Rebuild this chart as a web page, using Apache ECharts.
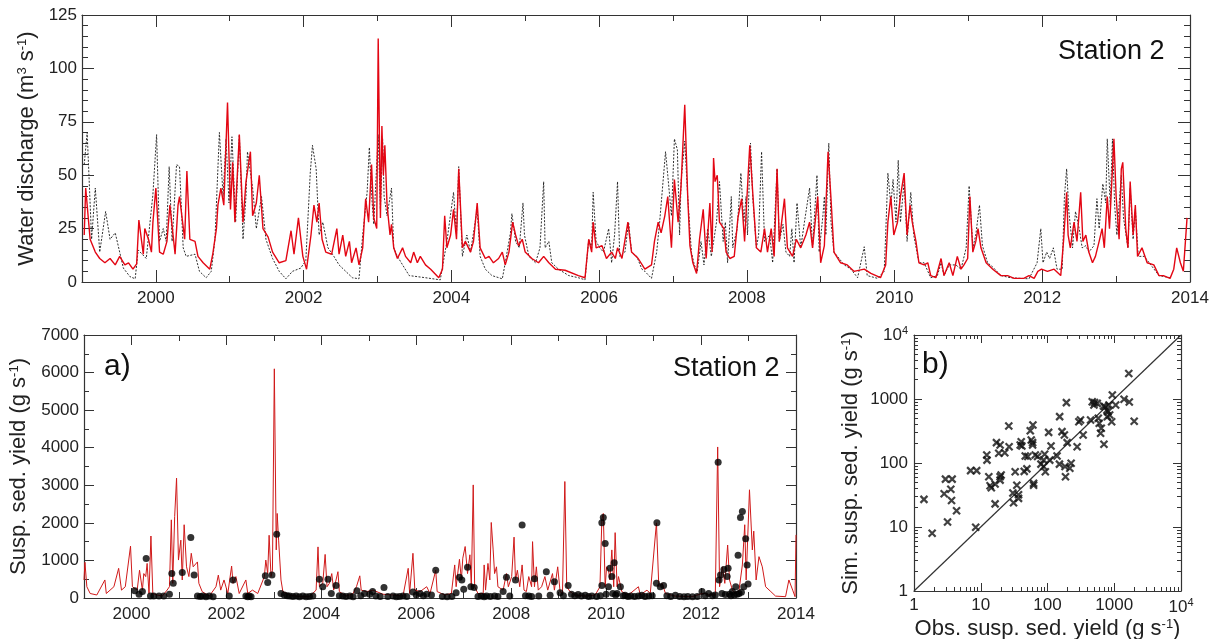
<!DOCTYPE html>
<html>
<head>
<meta charset="utf-8">
<script src="https://cdn.jsdelivr.net/npm/echarts@6/dist/echarts.min.js"></script>
<style>
  html, body { margin: 0; padding: 0; background: #fff; }
  #chart { width: 1210px; height: 639px; }
</style>
</head>
<body>
<div id="chart"></div>
<script>
// observed / simulated water discharge, [decimal year, m3/s]
const qObs = [
  [1999.03,55],[1999.07,70],[1999.13,20],[1999.18,44],[1999.24,14],[1999.32,33],[1999.38,20],[1999.45,23],[1999.56,6.5],[1999.65,2.5],
  [1999.72,1.5],[1999.76,15],[1999.87,11],[1999.96,41],[2000.01,69],[2000.05,19],[2000.10,25],[2000.14,19],[2000.18,54],[2000.22,19],
  [2000.28,55],[2000.32,54],[2000.37,16],[2000.41,12],[2000.53,13],[2000.59,5],[2000.68,2],[2000.75,5],[2000.80,20],[2000.86,70],
  [2000.91,40],[2000.95,67],[2000.99,37],[2001.03,68],[2001.08,28],[2001.13,69],[2001.18,20],[2001.22,40],[2001.24,61],[2001.31,44],
  [2001.36,25],[2001.43,40],[2001.49,20],[2001.58,11],[2001.67,5],[2001.76,1.5],[2001.85,5],[2001.96,6.5],[2002.03,10],[2002.09,51],
  [2002.12,64],[2002.17,53],[2002.21,22],[2002.26,28],[2002.33,16],[2002.41,12],[2002.48,8],[2002.57,5],[2002.66,2],[2002.75,1.5],
  [2002.80,22],[2002.83,32],[2002.86,42],[2002.89,63],[2002.92,41],[2002.95,27],[2002.98,48],[2003.01,69],[2003.04,34],[2003.07,67],
  [2003.09,40],[2003.13,31],[2003.19,44],[2003.22,16],[2003.27,12],[2003.34,8],[2003.43,3],[2003.65,2],[2003.85,1],[2003.90,11],
  [2003.94,19],[2004.03,42],[2004.07,22],[2004.10,54],[2004.15,12],[2004.21,22],[2004.26,14],[2004.30,23],[2004.35,34],[2004.39,12],
  [2004.46,6],[2004.55,3],[2004.69,1.5],[2004.73,9],[2004.80,23],[2004.82,32],[2004.87,19],[2004.92,16],[2004.97,37],[2004.99,22],
  [2005.05,12],[2005.14,9],[2005.20,16],[2005.25,47],[2005.27,16],[2005.32,19],[2005.36,9],[2005.45,6],[2005.59,3],[2005.72,2],
  [2005.81,1],[2005.86,20],[2005.90,16],[2005.92,42],[2005.96,19],[2006.01,16],[2006.06,14],[2006.13,25],[2006.17,9],[2006.21,22],
  [2006.25,47],[2006.28,12],[2006.35,14],[2006.40,28],[2006.44,14],[2006.51,12],[2006.58,6],[2006.62,5],[2006.71,1.7],[2006.78,14],
  [2006.82,28],[2006.90,61],[2006.93,50],[2006.98,31],[2007.02,67],[2007.06,62],[2007.09,22],[2007.11,47],[2007.16,66],[2007.20,40],
  [2007.25,14],[2007.29,8],[2007.33,5],[2007.38,19],[2007.42,8],[2007.47,25],[2007.52,12],[2007.59,28],[2007.63,47],[2007.68,19],
  [2007.71,28],[2007.74,9],[2007.79,40],[2007.81,16],[2007.87,25],[2007.92,51],[2007.96,28],[2007.99,40],[2008.01,22],[2008.05,65],
  [2008.08,40],[2008.13,16],[2008.16,22],[2008.20,61],[2008.24,19],[2008.31,22],[2008.35,9],[2008.41,53],[2008.44,19],[2008.49,27],
  [2008.53,14],[2008.58,12],[2008.61,25],[2008.64,9],[2008.68,37],[2008.73,16],[2008.78,28],[2008.85,44],[2008.89,16],[2008.95,50],
  [2008.98,14],[2009.03,31],[2009.05,40],[2009.07,22],[2009.11,65],[2009.14,28],[2009.18,14],[2009.25,11],[2009.32,8],[2009.41,6],
  [2009.50,2],[2009.59,16.5],[2009.63,3],[2009.77,1.7],[2009.86,5],[2009.88,22],[2009.91,51],[2009.95,36],[2009.98,48],[2010.02,28],
  [2010.05,57],[2010.08,28],[2010.13,47],[2010.17,19],[2010.22,42],[2010.26,22],[2010.33,9],[2010.40,9],[2010.49,2],[2010.58,3],
  [2010.63,9],[2010.67,3],[2010.74,8],[2010.83,8],[2010.90,6],[2010.97,16],[2011.01,45],[2011.06,16],[2011.10,22],[2011.15,36],
  [2011.19,17],[2011.26,9],[2011.33,7],[2011.44,3],[2011.57,2],[2011.71,1.7],[2011.82,1.5],[2011.93,9],[2011.98,25],[2012.01,9],
  [2012.06,14],[2012.10,11],[2012.15,16],[2012.20,6],[2012.27,6],[2012.30,40],[2012.33,53],[2012.36,33],[2012.41,16],[2012.45,33],
  [2012.50,25],[2012.54,16],[2012.59,17],[2012.63,14],[2012.70,17],[2012.74,39],[2012.77,25],[2012.82,46],[2012.86,37],[2012.88,67],
  [2012.92,36],[2012.95,67],[2012.98,36],[2013.01,22],[2013.07,50],[2013.10,30],[2013.16,16],[2013.19,44],[2013.23,20],[2013.26,34],
  [2013.30,12],[2013.38,12],[2013.47,8],[2013.58,3],[2013.73,2]
];

const qSim = [
  [1999.03,22],[1999.05,44],[1999.11,20],[1999.18,14],[1999.24,11],[1999.31,9],[1999.38,11],[1999.45,8],[1999.51,12],[1999.58,8],
  [1999.63,9],[1999.69,6],[1999.74,8.5],[1999.77,29],[1999.83,13],[1999.85,25],[1999.90,20],[1999.94,14],[1999.96,28],[2000.00,44],
  [2000.05,14],[2000.10,13],[2000.15,19],[2000.19,36],[2000.26,13],[2000.30,36],[2000.32,40],[2000.39,20],[2000.42,52],[2000.46,20],
  [2000.53,19],[2000.57,12],[2000.64,9],[2000.73,6],[2000.77,13],[2000.82,25],[2000.84,36],[2000.88,44],[2000.92,36],[2000.97,84],
  [2001.01,34],[2001.04,56],[2001.07,28],[2001.13,69],[2001.18,28],[2001.22,47],[2001.28,61],[2001.31,31],[2001.36,37],[2001.40,50],
  [2001.45,25],[2001.52,21],[2001.58,14],[2001.67,9],[2001.76,10],[2001.83,24],[2001.87,13],[2001.93,30],[2001.99,12],[2002.04,6],
  [2002.10,22],[2002.14,36],[2002.18,28],[2002.21,37],[2002.25,20],[2002.30,14],[2002.38,13],[2002.45,25],[2002.48,13],[2002.53,22],
  [2002.57,12],[2002.62,19],[2002.65,9],[2002.71,16],[2002.75,8],[2002.80,16],[2002.84,39],[2002.88,28],[2002.92,55],[2002.95,30],
  [2002.99,25],[2003.01,114],[2003.04,30],[2003.06,73],[2003.08,50],[2003.10,64],[2003.13,36],[2003.17,22],[2003.19,27],[2003.22,16],
  [2003.27,11],[2003.34,16],[2003.38,12],[2003.45,9],[2003.49,14],[2003.54,9],[2003.58,12],[2003.65,8],[2003.72,6],[2003.83,2],
  [2003.88,6],[2003.91,31],[2003.94,16],[2003.99,22],[2004.03,34],[2004.07,20],[2004.10,53],[2004.15,16],[2004.19,19],[2004.26,14],
  [2004.30,19],[2004.35,37],[2004.39,16],[2004.46,11],[2004.51,12],[2004.57,9],[2004.64,11],[2004.69,14],[2004.73,8],[2004.78,14],
  [2004.83,28],[2004.87,22],[2004.91,17],[2004.96,20],[2005.00,14],[2005.09,11],[2005.18,9],[2005.25,12],[2005.32,9],[2005.41,6],
  [2005.54,5.5],[2005.72,3],[2005.81,2],[2005.86,20],[2005.90,14],[2005.92,28],[2005.96,16],[2006.04,17],[2006.10,11],[2006.17,14],
  [2006.22,11],[2006.25,16],[2006.31,11],[2006.39,28],[2006.44,14],[2006.53,11],[2006.62,6],[2006.71,8],[2006.75,19],[2006.80,28],
  [2006.84,23],[2006.89,31],[2006.93,40],[2006.98,16],[2007.02,48],[2007.07,28],[2007.11,45],[2007.16,83],[2007.20,40],[2007.23,17],
  [2007.27,9],[2007.32,4],[2007.36,20],[2007.41,34],[2007.45,11],[2007.50,37],[2007.53,14],[2007.55,58],[2007.57,47],[2007.60,50],
  [2007.63,28],[2007.69,25],[2007.72,14],[2007.77,11],[2007.83,12],[2007.88,30],[2007.93,39],[2007.97,19],[2008.04,64],[2008.08,42],
  [2008.13,16],[2008.19,14],[2008.24,25],[2008.28,14],[2008.33,25],[2008.37,12],[2008.41,53],[2008.44,19],[2008.51,39],[2008.55,16],
  [2008.62,12],[2008.67,20],[2008.73,16],[2008.80,22],[2008.85,28],[2008.89,16],[2008.96,40],[2009.00,9],[2009.05,17],[2009.10,61],
  [2009.14,39],[2009.18,14],[2009.27,9],[2009.36,8],[2009.45,5],[2009.59,6],[2009.68,4],[2009.81,2],[2009.88,8],[2009.91,28],
  [2009.95,40],[2009.99,22],[2010.04,28],[2010.08,40],[2010.13,51],[2010.17,22],[2010.21,36],[2010.24,28],[2010.29,19],[2010.33,9],
  [2010.40,8],[2010.45,9],[2010.49,3],[2010.56,2],[2010.63,11],[2010.67,3],[2010.74,9],[2010.79,3],[2010.85,12],[2010.90,6],
  [2010.94,8],[2010.99,11],[2011.02,40],[2011.06,14],[2011.10,19],[2011.13,25],[2011.17,16],[2011.24,9],[2011.33,6],[2011.44,3],
  [2011.53,3],[2011.62,1.7],[2011.75,1.7],[2011.82,3],[2011.89,1.7],[2011.94,5],[2011.99,6],[2012.07,5],[2012.16,6],[2012.25,3],
  [2012.29,20],[2012.33,42],[2012.35,22],[2012.38,16],[2012.43,28],[2012.47,19],[2012.52,42],[2012.55,19],[2012.59,22],[2012.63,14],
  [2012.68,9],[2012.72,12],[2012.77,19],[2012.81,25],[2012.84,16],[2012.88,40],[2012.91,25],[2012.97,67],[2013.00,40],[2013.04,20],
  [2013.07,53],[2013.09,56],[2013.13,25],[2013.16,16],[2013.19,47],[2013.23,22],[2013.26,36],[2013.29,12],[2013.35,16],[2013.42,9],
  [2013.51,8],[2013.58,3],[2013.64,3],[2013.73,1.7],[2013.78,6],[2013.82,16],[2013.87,9],[2013.91,5],[2013.96,30]
];

// simulated suspended sediment yield, [decimal year, g/s]
const sedSim = [
  [1999.00,480],[1999.02,950],[1999.06,300],[1999.13,120],[1999.27,80],[1999.44,480],[1999.47,120],[1999.63,300],[1999.73,790],[1999.79,210],
  [1999.87,300],[1999.98,1380],[2000.02,300],[2000.12,210],[2000.17,740],[2000.23,210],[2000.26,650],[2000.30,570],[2000.33,920],[2000.37,120],
  [2000.41,1650],[2000.45,120],[2000.54,80],[2000.65,50],[2000.75,210],[2000.80,300],[2000.84,2080],[2000.87,390],[2000.91,2170],[2000.95,3190],
  [2000.99,1010],[2001.04,1540],[2001.07,480],[2001.11,1950],[2001.16,830],[2001.21,570],[2001.26,1190],[2001.30,830],[2001.39,960],[2001.42,390],
  [2001.49,170],[2001.64,50],[2001.78,300],[2001.83,610],[2001.88,210],[2001.95,480],[2002.03,120],[2002.11,850],[2002.14,390],[2002.20,570],
  [2002.27,120],[2002.41,480],[2002.45,120],[2002.55,210],[2002.66,120],[2002.80,570],[2002.83,1010],[2002.87,650],[2002.90,1670],[2002.94,570],
  [2002.97,740],[2003.01,6100],[2003.05,1280],[2003.07,2250],[2003.10,1540],[2003.15,480],[2003.19,170],[2003.33,80],[2003.54,35],[2003.75,35],
  [2003.89,210],[2003.93,1360],[2003.96,300],[2004.03,390],[2004.08,1160],[2004.12,300],[2004.17,390],[2004.22,650],[2004.26,210],[2004.35,700],
  [2004.38,170],[2004.52,50],[2004.67,120],[2004.74,300],[2004.81,590],[2004.84,210],[2004.95,170],[2005.09,210],[2005.30,100],[2005.51,80],
  [2005.72,50],[2005.83,790],[2005.86,120],[2005.93,1190],[2005.97,210],[2006.08,170],[2006.22,300],[2006.29,120],[2006.41,740],[2006.44,170],
  [2006.53,120],[2006.60,80],[2006.74,120],[2006.81,880],[2006.84,300],[2006.91,1030],[2006.95,480],[2006.98,1060],[2007.03,1370],[2007.08,650],
  [2007.13,1150],[2007.16,300],[2007.20,3010],[2007.23,300],[2007.30,120],[2007.41,120],[2007.43,880],[2007.46,210],[2007.51,920],[2007.55,480],
  [2007.58,2010],[2007.62,1280],[2007.65,650],[2007.69,830],[2007.72,300],[2007.83,210],[2007.90,650],[2007.94,300],[2008.01,570],[2008.06,1620],
  [2008.09,480],[2008.13,740],[2008.18,300],[2008.23,880],[2008.27,210],[2008.32,170],[2008.37,570],[2008.43,300],[2008.45,1500],[2008.49,300],
  [2008.53,830],[2008.57,210],[2008.64,300],[2008.71,570],[2008.77,210],[2008.87,650],[2008.91,210],[2008.98,830],[2009.03,170],[2009.08,120],
  [2009.13,3100],[2009.17,300],[2009.24,170],[2009.34,80],[2009.56,50],[2009.77,80],[2009.87,300],[2009.91,2100],[2009.94,2250],[2009.98,300],
  [2010.01,830],[2010.05,740],[2010.08,480],[2010.12,1280],[2010.16,300],[2010.19,1740],[2010.23,300],[2010.26,570],[2010.33,170],[2010.47,80],
  [2010.68,300],[2010.72,80],[2010.86,210],[2010.93,120],[2011.06,2000],[2011.11,300],[2011.18,390],[2011.25,120],[2011.46,50],[2011.81,35],
  [2012.02,120],[2012.09,120],[2012.16,80],[2012.30,80],[2012.35,4020],[2012.39,300],[2012.45,830],[2012.50,390],[2012.56,1410],[2012.60,480],
  [2012.66,210],[2012.73,120],[2012.80,210],[2012.87,880],[2012.92,1950],[2012.95,480],[2013.02,2880],[2013.08,1280],[2013.11,1780],[2013.16,480],
  [2013.22,1100],[2013.29,830],[2013.36,300],[2013.47,170],[2013.57,50],[2013.78,35],[2013.85,480],[2013.93,210],[2013.98,35],[2014.00,1680]
];

// observed suspended sediment yield samples, [decimal year, g/s]
const sedObs = [
  [2000.07,195],[2000.16,100],[2000.23,170],[2000.31,1050],[2000.40,50],[2000.47,50],[2000.58,50],[2000.68,50],[2000.80,100],[2000.85,650],
  [2000.88,390],[2001.07,680],[2001.25,1610],[2001.32,610],[2001.39,50],[2001.45,40],[2001.50,50],[2001.57,30],[2001.64,50],[2001.72,30],
  [2002.06,50],[2002.14,480],[2002.41,50],[2002.45,30],[2002.48,50],[2002.52,30],[2002.82,590],[2002.87,410],[2002.96,610],[2003.06,1700],
  [2003.15,120],[2003.22,80],[2003.28,60],[2003.33,50],[2003.40,40],[2003.47,50],[2003.54,30],[2003.61,50],[2003.68,30],[2003.75,40],
  [2003.82,50],[2003.96,500],[2004.03,300],[2004.14,500],[2004.21,120],[2004.31,330],[2004.38,60],[2004.45,50],[2004.52,40],[2004.60,50],
  [2004.67,30],[2004.75,190],[2004.83,60],[2004.91,120],[2005.02,100],[2005.08,170],[2005.15,50],[2005.24,40],[2005.32,280],[2005.40,40],
  [2005.51,50],[2005.58,30],[2005.65,40],[2005.72,50],[2005.80,40],[2005.93,160],[2006.00,80],[2006.08,120],[2006.15,60],[2006.22,100],
  [2006.32,80],[2006.41,740],[2006.55,40],[2006.65,30],[2006.75,40],[2006.84,140],[2006.91,550],[2006.96,480],[2007.00,230],[2007.08,820],
  [2007.15,300],[2007.22,280],[2007.30,40],[2007.37,50],[2007.43,30],[2007.48,50],[2007.56,40],[2007.65,50],[2007.72,40],[2007.83,170],
  [2007.90,550],[2007.97,50],[2008.09,480],[2008.23,1940],[2008.30,60],[2008.37,50],[2008.43,40],[2008.49,510],[2008.58,50],[2008.74,700],
  [2008.82,70],[2008.91,430],[2009.03,140],[2009.10,60],[2009.20,330],[2009.27,100],[2009.34,60],[2009.41,90],[2009.48,50],[2009.56,70],
  [2009.63,40],[2009.70,50],[2009.80,40],[2009.88,60],[2009.91,2000],[2009.91,330],[2009.94,2140],[2009.98,1450],[2010.00,100],[2010.05,300],
  [2010.08,790],[2010.12,570],[2010.14,120],[2010.17,940],[2010.20,80],[2010.23,120],[2010.30,300],[2010.36,60],[2010.40,70],[2010.46,40],
  [2010.52,50],[2010.60,40],[2010.68,50],[2010.75,70],[2010.82,40],[2010.90,50],[2010.97,60],[2011.06,390],[2011.07,2000],[2011.14,300],
  [2011.21,330],[2011.28,60],[2011.36,40],[2011.46,70],[2011.55,40],[2011.64,30],[2011.72,40],[2011.82,30],[2011.92,40],[2012.02,170],
  [2012.09,60],[2012.16,120],[2012.24,60],[2012.30,80],[2012.36,3610],[2012.38,480],[2012.41,610],[2012.44,120],[2012.48,760],[2012.51,90],
  [2012.55,570],[2012.57,790],[2012.60,100],[2012.63,60],[2012.66,170],[2012.70,80],[2012.73,300],[2012.76,100],[2012.78,1140],[2012.80,120],
  [2012.83,2140],[2012.85,150],[2012.87,2300],[2012.90,300],[2012.94,1580],[2012.97,880],[2012.99,370]
];

// panel b: observed vs simulated yield (g/s)
const scObs = [1.41,1.87,2.83,2.96,3.73,3.56,3.65,3.18,4.34,7.05,
  8.68,8.4,12.3,12.4,13.2,13.8,14.4,16.4,16.4,17.2,
  19.5,18.6,22.9,19.5,19.5,20.2,26.3,26.6,30.3,31.0,
  32.8,34.7,36.8,36.8,39.0,40.4,41.3,44.8,49.1,46.4,
  50.8,55.2,57.1,59.8,59.8,60.5,61.9,61.9,65.6,71.1,
  79.8,87.5,87.5,90.6,92.8,104,108,113,139,151,
  152,165,179,183,186,197,192,216,226,278,
  295,312,342,442,468,496,507,556,576,596,
  624,639,701,726,778,787,805,834,853,914,
  936,1050,1403,1650,1680,1990,690];
const scSim = [27,8.0,33,56,56,39,26,12,18,76,
  76,9.9,133,111,61,44,41,23,47,208,
  191,142,145,61,54,65,378,180,34,24,
  73,45,32,28,191,215,184,74,81,129,
  126,320,229,208,191,392,48,45,133,126,
  96,111,88,137,73,301,111,184,129,96,
  530,309,274,88,61,208,877,83,99,180,
  442,470,274,470,908,806,877,855,499,417,
  291,348,196,759,673,530,634,806,562,442,
  1155,806,988,2500,900,450,780];
const oneToOne = [[1, 1], [10000, 10000]];

const evenYears = [2000, 2002, 2004, 2006, 2008, 2010, 2012, 2014];
const logMinor = [];
[1, 10, 100, 1000].forEach(d => { for (let k = 2; k <= 9; k++) logMinor.push(k * d); });

const FONT = '"Liberation Sans", Arial, Helvetica, sans-serif';
const AX = '#333';
const RED = '#e30613';

const myChart = echarts.init(document.getElementById('chart'));

// year axis pair (short ticks every year, long ticks every 2 years)
function yearAxes (grid, pos, labels, longLen) {
  const base = {
    type: 'value', gridIndex: grid, position: pos, min: 1999, max: 2014, interval: 1,
    splitLine: { show: false },
    axisLine: { show: true, lineStyle: { color: AX, width: 1.2 } }
  };
  return [
    Object.assign({}, base, {
      axisTick: { inside: true, length: 6, lineStyle: { color: AX } },
      axisLabel: labels
        ? { show: true, margin: 8, fontSize: 17, color: '#222', fontFamily: FONT,
            formatter: v => (v % 2 === 0 ? String(v) : '') }
        : { show: false }
    }),
    Object.assign({}, base, {
      axisLine: { show: false },
      axisTick: { inside: true, length: longLen, customValues: evenYears, lineStyle: { color: AX } },
      axisLabel: { show: false }
    })
  ];
}

function logAxes (grid, pos, labels, nameOpts) {
  const base = {
    type: 'log', logBase: 10, gridIndex: grid, position: pos, min: 1, max: 10000,
    splitLine: { show: false },
    axisLine: { show: true, lineStyle: { color: AX, width: 1.2 } }
  };
  return [
    Object.assign({}, base, {
      axisTick: { inside: true, length: 8, lineStyle: { color: AX } },
      axisLabel: labels
        ? { show: true, margin: 6, fontSize: 17, color: '#222', fontFamily: FONT,
            formatter: v => (v >= 10000 ? '{b|10}{s|4}' : String(v)),
            rich: { b: { fontSize: 17, fontFamily: FONT, color: '#222' },
                    s: { fontSize: 11, fontFamily: FONT, color: '#222', verticalAlign: 'top', lineHeight: 20 } } }
        : { show: false }
    }, nameOpts || {}),
    Object.assign({}, base, {
      axisLine: { show: false },
      axisTick: { inside: true, length: 4, customValues: logMinor, lineStyle: { color: AX } },
      axisLabel: { show: false }
    })
  ];
}

function titleRich (size) {
  return {
    t: { fontSize: size, fontFamily: FONT, color: '#222' },
    s: { fontSize: Math.round(size * 0.6), fontFamily: FONT, color: '#222', verticalAlign: 'top' }
  };
}

function valueY (grid, pos, max, interval, minorSplit, labels, tickLen, nameOpts) {
  return Object.assign({
    type: 'value', gridIndex: grid, position: pos, min: 0, max: max, interval: interval,
    splitLine: { show: false },
    axisLine: { show: true, lineStyle: { color: AX, width: 1.2 } },
    axisTick: { inside: true, length: tickLen, lineStyle: { color: AX } },
    minorTick: { show: true, splitNumber: minorSplit, length: tickLen / 2, lineStyle: { color: AX } },
    axisLabel: labels
      ? { show: true, margin: 5, fontSize: 17, color: '#222', fontFamily: FONT, formatter: v => String(v) }
      : { show: false }
  }, nameOpts || {});
}

const xAxes = [].concat(
  yearAxes(0, 'bottom', true, 12), // 0,1
  yearAxes(0, 'top', false, 12), // 2,3
  yearAxes(1, 'bottom', true, 10), // 4,5
  yearAxes(1, 'top', false, 10), // 6,7
  logAxes(2, 'bottom', true, {
    name: '{t|Obs. susp. sed. yield (g s}{s|-1}{t|)}',
    nameLocation: 'middle', nameGap: 27,
    nameTextStyle: { rich: titleRich(22) }
  }), // 8,9
  logAxes(2, 'top', false) // 10,11
);

const yAxes = [
  valueY(0, 'left', 125, 25, 5, true, 12, {
    name: '{t|Water discharge (m}{s|3}{t| s}{s|-1}{t|)}',
    nameLocation: 'middle', nameRotate: 90, nameGap: 42,
    nameTextStyle: { rich: titleRich(22) }
  }),
  valueY(0, 'right', 125, 25, 5, false, 12),
  valueY(1, 'left', 7000, 1000, 2, true, 10, {
    name: '{t|Susp. sed. yield (g s}{s|-1}{t|)}',
    nameLocation: 'middle', nameRotate: 90, nameGap: 50,
    nameTextStyle: { rich: titleRich(22) }
  }),
  valueY(1, 'right', 7000, 1000, 2, false, 10)
].concat(
  logAxes(2, 'left', true, {
    name: '{t|Sim. susp. sed. yield (g s}{s|-1}{t|)}',
    nameLocation: 'middle', nameRotate: 90, nameGap: 52,
    nameTextStyle: { rich: titleRich(22) }
  }), // 4,5
  logAxes(2, 'right', false) // 6,7
);

const option = {
  animation: false,
  backgroundColor: '#fff',
  grid: [
    { left: 82, top: 15, width: 1108, height: 267, containLabel: false, outerBoundsMode: 'none' },
    { left: 84, top: 335, width: 712, height: 263, containLabel: false, outerBoundsMode: 'none' },
    { left: 914, top: 335, width: 267, height: 256, containLabel: false, outerBoundsMode: 'none' }
  ],
  xAxis: xAxes,
  yAxis: yAxes,
  graphic: [
    { type: 'text', left: 1058, top: 38, style: { text: 'Station 2', fontSize: 27, fontFamily: FONT, fill: '#111' } },
    { type: 'text', left: 673, top: 355, style: { text: 'Station 2', fontSize: 27, fontFamily: FONT, fill: '#111' } },
    { type: 'text', left: 104, top: 352, style: { text: 'a)', fontSize: 30, fontFamily: FONT, fill: '#111' } },
    { type: 'text', left: 922, top: 350, style: { text: 'b)', fontSize: 30, fontFamily: FONT, fill: '#111' } }
  ],
  series: [
    {
      name: 'Observed discharge', type: 'line', xAxisIndex: 0, yAxisIndex: 0, data: qObs,
      showSymbol: false, z: 2,
      lineStyle: { color: '#1a1a1a', width: 0.9, type: [2, 1.5] }
    },
    {
      name: 'Simulated discharge', type: 'line', xAxisIndex: 0, yAxisIndex: 0, data: qSim,
      showSymbol: false, z: 3,
      lineStyle: { color: RED, width: 1.4 }
    },
    {
      name: 'Simulated yield', type: 'line', xAxisIndex: 4, yAxisIndex: 2, data: sedSim,
      showSymbol: false, z: 2,
      lineStyle: { color: '#d01a1a', width: 1 }
    },
    {
      name: 'Observed yield', type: 'scatter', xAxisIndex: 4, yAxisIndex: 2, data: sedObs,
      symbolSize: 7, z: 3,
      itemStyle: { color: '#000' }
    },
    {
      name: '1:1', type: 'line', xAxisIndex: 8, yAxisIndex: 4, data: oneToOne,
      showSymbol: false, z: 2,
      lineStyle: { color: '#333', width: 1.2 }
    },
    {
      name: 'Obs vs sim', type: 'scatter', xAxisIndex: 8, yAxisIndex: 4,
      data: scObs.map((v, i) => [v, scSim[i]]),
      symbol: 'path://M0 0L10 10M10 0L0 10', symbolSize: 7, z: 3,
      itemStyle: { color: 'none', borderColor: '#111', borderWidth: 2.2 }
    }
  ]
};

myChart.setOption(option);
window.addEventListener('resize', () => {
  myChart.resize()
});
</script>
</body>
</html>
